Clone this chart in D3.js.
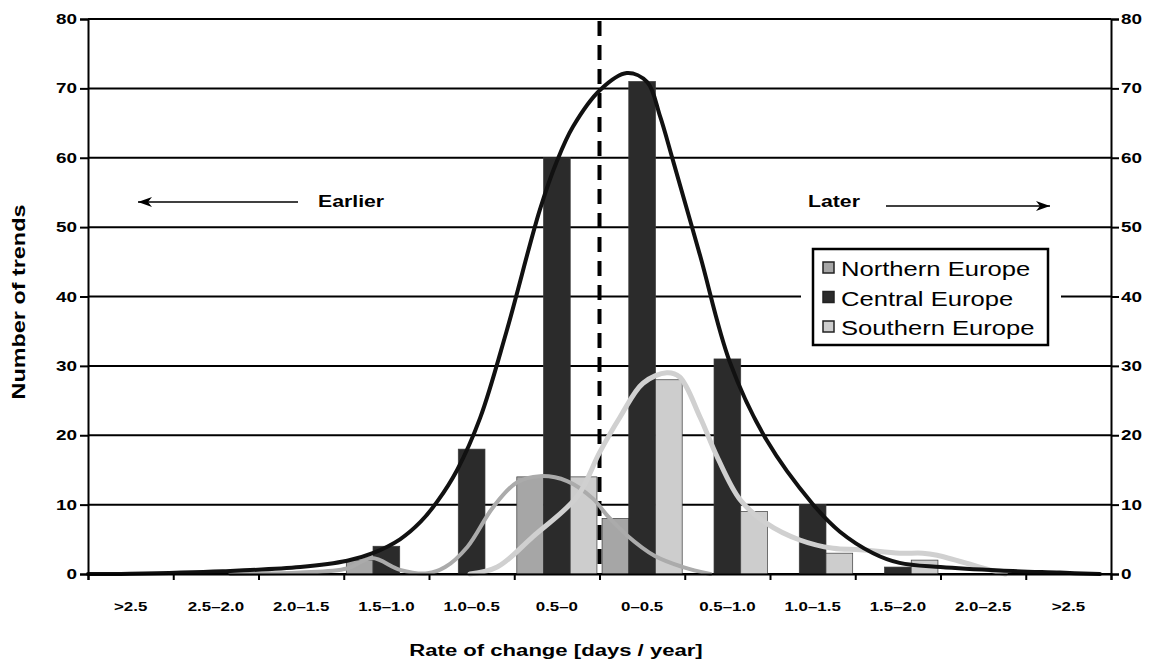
<!DOCTYPE html>
<html>
<head>
<meta charset="utf-8">
<script src="https://cdn.jsdelivr.net/npm/d3@7"></script>
<style>
  html, body { margin: 0; padding: 0; background: #fff; }
  svg { display: block; font-family: "Liberation Sans", Arial, Helvetica, sans-serif; }
</style>
</head>
<body>
<svg id="chart" width="1160" height="662"></svg>
<script>
// ---------- DATA ----------
const categories = [">2.5", "2.5–2.0", "2.0–1.5", "1.5–1.0", "1.0–0.5", "0.5–0",
                    "0–0.5", "0.5–1.0", "1.0–1.5", "1.5–2.0", "2.0–2.5", ">2.5"];
const seriesNames = ["Northern Europe", "Central Europe", "Southern Europe"];
const northern = [0, 0, 0, 2, 0, 14, 8, 0, 0, 0, 0, 0];
const central  = [0, 0, 0, 4, 18, 60, 71, 31, 10, 1, 0, 0];
const southern = [0, 0, 0, 0, 0, 14, 28, 9, 3, 2, 0, 0];
const yTicks = [0, 10, 20, 30, 40, 50, 60, 70, 80];

// smoothed distribution curves (x in category units, y = trends)
const centralCurveX = [0.0, 0.49, 1.58, 2.49, 3.04, 3.34, 3.66, 3.90, 4.10, 4.33, 4.60, 4.91, 5.30, 5.50, 5.69, 6.01, 6.32, 6.56, 6.71, 6.86, 7.18, 7.53, 7.96, 8.50, 8.82, 9.21, 9.52, 10.0, 10.7, 11.4, 11.87];
const centralCurveY = [0, 0.05, 0.4, 1.0, 1.9, 3.0, 5.0, 7.5, 10.5, 15, 22.5, 35, 52.5, 59.5, 64.5, 69.8, 72.2, 70.9, 66.0, 59.7, 45.9, 30.5, 19.3, 10.1, 6.1, 3.0, 1.6, 1.0, 0.5, 0.2, 0];
const northernCurveX = [1.67, 2.49, 3.04, 3.33, 3.66, 3.98, 4.19, 4.45, 4.75, 5.03, 5.30, 5.62, 5.92, 6.10, 6.32, 6.65, 6.98, 7.30];
const northernCurveY = [0, 0.2, 0.8, 2.3, 0.6, 0.1, 1.0, 3.9, 9.6, 13.2, 14.1, 13.4, 10.9, 8.3, 5.6, 2.6, 1.0, 0];
const southernCurveX = [4.48, 4.80, 5.22, 5.74, 6.00, 6.24, 6.51, 6.79, 6.94, 7.18, 7.38, 7.65, 7.96, 8.35, 8.74, 9.06, 9.52, 9.79, 9.96, 10.46, 10.76];
const southernCurveY = [0, 1.0, 5.4, 11.2, 17.5, 22.6, 27.5, 29.0, 28.4, 22.6, 16.9, 10.7, 7.3, 4.9, 3.7, 3.5, 3.0, 3.0, 2.7, 1.0, 0];

// ---------- LAYOUT ----------
const svg = d3.select("#chart");
const L = 88, R = 1111, T = 19, B = 574;
const SX = 1.3; // horizontal stretch of the scanned lettering
const colors = { "Northern Europe": "#a6a6a6", "Central Europe": "#2b2b2b", "Southern Europe": "#cdcdcd" };
const curveColors = { north: "#ababab", central: "#111", south: "#d0d0d0" };

function wtext(g, x, y, str, size, weight, anchor, sx) {
  return g.append("text")
    .attr("transform", `translate(${x},${y}) scale(${sx || SX},1)`)
    .attr("text-anchor", anchor || "start")
    .attr("font-size", size).attr("font-weight", weight || "normal")
    .attr("fill", "#000")
    .text(str);
}

const idx = categories.map((d, i) => i);
const x = d3.scaleBand().domain(idx).range([L, R]).padding(0);
const xc = d3.scaleLinear().domain([0, categories.length]).range([L, R]);
const bw = x.bandwidth();
const x1 = d3.scaleBand().domain(seriesNames).range([bw * 0.03, bw * 0.97]).padding(0);
const y = d3.scaleLinear().domain([0, 80]).range([B, T]);

// gridlines
svg.append("g").selectAll("line").data(yTicks).join("line")
  .attr("x1", L).attr("x2", R)
  .attr("y1", d => y(d)).attr("y2", d => y(d))
  .attr("stroke", "#000").attr("stroke-width", 2);

// legend background (masks the gridline behind it)
const lg = svg.append("g");
lg.append("rect").attr("x", 801).attr("y", 240).attr("width", 260).attr("height", 113).attr("fill", "#fff");

// bars
const data = idx.map(i => ({ i, vals: [northern[i], central[i], southern[i]] }));
const bars = svg.append("g");
data.forEach(d => {
  seriesNames.forEach((s, k) => {
    const v = d.vals[k];
    if (v <= 0) return;
    bars.append("rect")
      .attr("x", x(d.i) + x1(s))
      .attr("y", y(v))
      .attr("width", x1.bandwidth())
      .attr("height", y(0) - y(v))
      .attr("fill", colors[s])
      .attr("stroke", "#3a3a3a").attr("stroke-width", 0.7);
  });
});

// dashed zero line
svg.append("line")
  .attr("x1", xc(6)).attr("x2", xc(6))
  .attr("y1", y(80) + 2).attr("y2", y(0))
  .attr("stroke", "#000").attr("stroke-width", 4)
  .attr("stroke-dasharray", "15,9");

// curves
function drawCurve(xs, ys, color, w) {
  const pts = xs.map((v, i) => [v, ys[i]]);
  svg.append("path").datum(pts)
    .attr("d", d3.line().x(p => xc(p[0])).y(p => y(p[1])).curve(d3.curveCatmullRom.alpha(0.5)))
    .attr("fill", "none").attr("stroke", color).attr("stroke-width", w)
    .attr("stroke-linecap", "round");
}
drawCurve(northernCurveX, northernCurveY, curveColors.north, 4);
drawCurve(southernCurveX, southernCurveY, curveColors.south, 5);
drawCurve(centralCurveX, centralCurveY, curveColors.central, 4);

// axes
const leftAxis = d3.axisLeft(y).tickValues(yTicks).tickSize(8).tickFormat("");
const gl = svg.append("g").attr("transform", `translate(${L},0)`).call(leftAxis);
const rightAxis = d3.axisRight(y).tickValues(yTicks).tickSize(8).tickFormat("");
const gr = svg.append("g").attr("transform", `translate(${R},0)`).call(rightAxis);
[gl, gr].forEach(g => {
  g.select(".domain").attr("stroke", "#000").attr("stroke-width", 2);
  g.selectAll(".tick line").attr("stroke", "#000").attr("stroke-width", 2);
});
const ylab = svg.append("g");
yTicks.forEach(v => {
  wtext(ylab, 77, y(v) + 5, String(v), 14, "bold", "end", 1.35);
  wtext(ylab, 1121, y(v) + 5, String(v), 14, "bold", "start", 1.35);
});

const bottom = d3.axisBottom(xc).tickValues(d3.range(0, categories.length + 1)).tickSize(6).tickFormat("");
const gb = svg.append("g").attr("transform", `translate(0,${B})`).call(bottom);
gb.select(".domain").attr("stroke", "#000").attr("stroke-width", 2);
gb.selectAll(".tick line").attr("stroke", "#000").attr("stroke-width", 2);
const xlab = svg.append("g");
idx.forEach(i => wtext(xlab, x(i) + bw / 2, 611, categories[i], 13, "bold", "middle", 1.3));

// axis titles
svg.append("text")
  .attr("transform", "translate(25,302) rotate(-90) scale(1.3,1)")
  .attr("text-anchor", "middle").attr("font-size", 18).attr("font-weight", "bold")
  .text("Number of trends");
wtext(svg, 556, 656, "Rate of change [days / year]", 17, "bold", "middle", 1.3);

// Earlier / Later annotations
wtext(svg, 318, 207, "Earlier", 17, "bold", "start", 1.25);
wtext(svg, 808, 207, "Later", 17, "bold", "start", 1.25);
function arrow(x1a, x2a, yy) {
  svg.append("line").attr("x1", x1a).attr("x2", x2a).attr("y1", yy).attr("y2", yy)
    .attr("stroke", "#000").attr("stroke-width", 1.3);
  const dir = x2a > x1a ? 1 : -1;
  svg.append("path")
    .attr("d", `M${x2a},${yy} L${x2a - dir * 14},${yy - 5} L${x2a - dir * 10},${yy} L${x2a - dir * 14},${yy + 5} Z`)
    .attr("fill", "#000");
}
arrow(298, 138, 202);
arrow(886, 1050, 206);

// legend
lg.append("rect").attr("x", 813).attr("y", 249).attr("width", 235).attr("height", 96)
  .attr("fill", "#fff").attr("stroke", "#000").attr("stroke-width", 2.5);
seriesNames.forEach((s, k) => {
  const yy = 268 + k * 29.5;
  lg.append("rect").attr("x", 823).attr("y", yy - 6).attr("width", 11).attr("height", 11)
    .attr("fill", colors[s]).attr("stroke", "#222").attr("stroke-width", 1.5);
  wtext(lg, 841, yy + 8, s, 20, "normal", "start", 1.28);
});
</script>
</body>
</html>
